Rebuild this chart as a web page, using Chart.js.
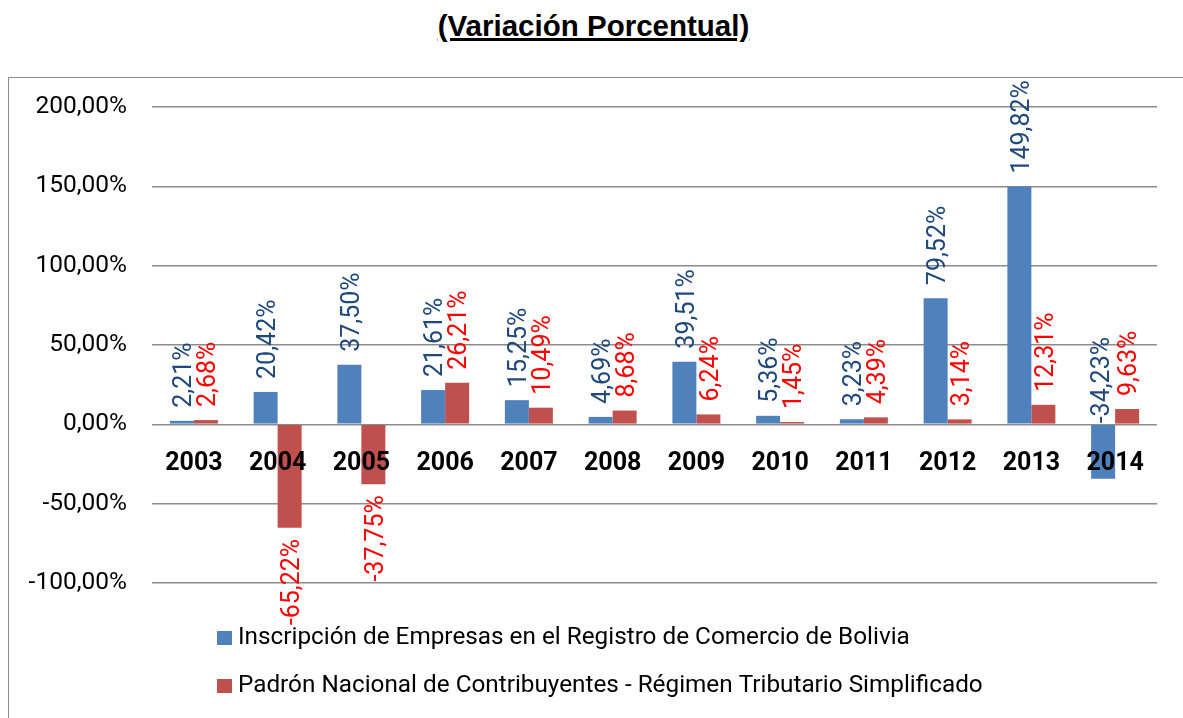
<!DOCTYPE html>
<html>
<head>
<meta charset="utf-8">
<script src="https://cdn.jsdelivr.net/npm/chart.js@4"></script>
<style>
  html, body { margin: 0; padding: 0; background: #fff; }
  body { width: 1183px; height: 718px; overflow: hidden; position: relative; font-family: Roboto, sans-serif; }
  #title {
    position: absolute; left: 0; top: 9px; width: 1187px; text-align: center;
    font: bold 29.5px "Liberation Sans", Arial, sans-serif; text-decoration: underline;
    text-decoration-thickness: 3px; color: #000;
  }
  #frame {
    position: absolute; left: 8px; top: 77px; width: 1200px; height: 700px;
    border-left: 1px solid #8c8c8c; border-top: 1px solid #8c8c8c;
  }
  #chart { position: absolute; left: 9px; top: 78px; }
</style>
</head>
<body>
<div id="title">(Variación Porcentual)</div>
<div id="frame"></div>
<canvas id="chart" width="1174" height="640"></canvas>
<script>
const years = ['2003', '2004', '2005', '2006', '2007', '2008', '2009', '2010', '2011', '2012', '2013', '2014'];
const inscripcion = [2.21, 20.42, 37.50, 21.61, 15.25, 4.69, 39.51, 5.36, 3.23, 79.52, 149.82, -34.23];
const padron = [2.68, -65.22, -37.75, 26.21, 10.49, 8.68, 6.24, 1.45, 4.39, 3.14, 12.31, 9.63];
const seriesNames = [
    'Inscripción de Empresas en el Registro de Comercio de Bolivia',
    'Padrón Nacional de Contribuyentes - Régimen Tributario Simplificado'
];
const barColors = ['#4F81BD', '#C0504D'];
const labelColors = ['#1F497D', '#FF0000'];

function fmtPct(v) {
    return v.toFixed(2).replace('.', ',') + '%';
}

// rotated value labels above/below each bar
const valueLabels = {
    id: 'valueLabels',
    afterDatasetsDraw(chart) {
        const ctx = chart.ctx;
        const zero = chart.scales.y.getPixelForValue(0);
        ctx.save();
        ctx.font = '25px Roboto';
        ctx.textBaseline = 'middle';
        chart.data.datasets.forEach((ds, di) => {
            const meta = chart.getDatasetMeta(di);
            meta.data.forEach((bar, i) => {
                const v = ds.data[i];
                ctx.save();
                ctx.fillStyle = labelColors[di];
                if (v >= 0) {
                    ctx.translate(bar.x + 3, bar.y);
                    ctx.rotate(-Math.PI / 2);
                    ctx.textAlign = 'left';
                    ctx.fillText(fmtPct(v), 13, 0);
                } else if (di === 0) {
                    // excel put this one over the zero line
                    ctx.translate(bar.x, zero);
                    ctx.rotate(-Math.PI / 2);
                    ctx.textAlign = 'left';
                    ctx.fillText(fmtPct(v), 1, 0);
                } else {
                    ctx.translate(bar.x + 3, bar.y);
                    ctx.rotate(-Math.PI / 2);
                    ctx.textAlign = 'right';
                    ctx.fillText(fmtPct(v), -11, 0);
                }
                ctx.restore();
            });
        });
        ctx.restore();
    }
};

// stacked legend under the plot, left aligned like the excel one
const stackLegend = {
    id: 'stackLegend',
    afterDraw(chart) {
        const ctx = chart.ctx;
        const area = chart.chartArea;
        ctx.save();
        ctx.font = '24.3px Roboto';
        ctx.textBaseline = 'middle';
        ctx.textAlign = 'left';
        chart.data.datasets.forEach((ds, di) => {
            const y = area.bottom + 55 + di * 48;
            ctx.fillStyle = ds.backgroundColor;
            ctx.fillRect(208, y - 7, 15, 14);
            ctx.fillStyle = '#000';
            ctx.fillText(ds.label, 229, y);
        });
        ctx.restore();
    }
};

new Chart(document.getElementById('chart'), {
    type: 'bar',
    data: {
        labels: years,
        datasets: [
            { label: seriesNames[0], data: inscripcion, backgroundColor: barColors[0] },
            { label: seriesNames[1], data: padron, backgroundColor: barColors[1] }
        ]
    },
    options: {
        responsive: false,
        devicePixelRatio: 1,
        animation: false,
        layout: { padding: { top: 29, right: 26, bottom: 135, left: 0 } },
        datasets: { bar: { categoryPercentage: 0.573, barPercentage: 1.0 } },
        plugins: {
            legend: { display: false },
            tooltip: { enabled: false }
        },
        scales: {
            x: {
                position: { y: 0 },
                grid: { display: false, drawTicks: false },
                border: { display: false },
                ticks: {
                    z: 1,  // year labels sit on top of the bars
                    color: '#000',
                    font: { family: 'Roboto', size: 25, weight: 'bold' },
                    padding: 24,
                    maxRotation: 0,
                    autoSkip: false
                }
            },
            y: {
                min: -100,
                max: 200,
                afterFit(scale) {
                    scale.width = 143;
                    scale.paddingTop = 12;
                    scale.paddingBottom = 12;
                },
                grid: { color: '#8c8c8c', lineWidth: 1.5, drawTicks: false },
                border: { display: false },
                ticks: {
                    stepSize: 50,
                    color: '#000',
                    font: { family: 'Roboto', size: 24.5 },
                    padding: 25,
                    callback: v => fmtPct(v)
                }
            }
        }
    },
    plugins: [valueLabels, stackLegend]
});
</script>
</body>
</html>
